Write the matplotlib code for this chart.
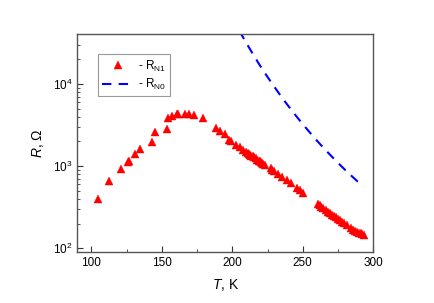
import numpy as np
import matplotlib
matplotlib.use('Agg')
import matplotlib.pyplot as plt
from matplotlib.ticker import LogLocator, MultipleLocator, NullFormatter

plt.rcParams['font.family'] = ['Liberation Sans', 'DejaVu Sans']
plt.rcParams['mathtext.fontset'] = 'custom'
plt.rcParams['mathtext.rm'] = 'Liberation Sans'
plt.rcParams['mathtext.it'] = 'Liberation Sans:italic'

# R_N1 measured points (T in K, R in Ohm)
t_n1 = [105.0, 112.5, 120.8, 125.7, 126.7, 130.7, 134.8, 142.8, 145.1, 153.6,
        154.6, 157.0, 161.0, 161.7, 166.4, 169.2, 172.8, 179.1,
        188.2, 191.2, 194.5, 197.6, 199.3, 202.3, 205.4, 207.8, 209.9, 210.8,
        211.8, 212.6, 213.5, 214.4, 215.3, 216.5, 217.7, 218.6, 219.6, 220.5,
        221.3, 222.1, 222.9, 227.2, 228.3, 229.5, 232.3, 235.5, 238.5, 241.3,
        245.6, 248.0, 250.4,
        260.7, 261.9, 263.1, 264.6, 266.2, 267.7, 269.2, 270.7, 272.1, 273.5,
        274.9, 276.5, 278.0, 279.5, 281.1, 283.9, 285.8, 287.2, 288.7, 290.0,
        291.0, 292.2, 293.3]
r_n1 = [399, 662, 910, 1127, 1160, 1413, 1625, 1963, 2620, 2825,
        3800, 4030, 4260, 4300, 4300, 4300, 4230, 3800,
        2900, 2640, 2475, 2094, 2000, 1820, 1705, 1550, 1465, 1430,
        1400, 1365, 1336, 1310, 1288, 1240, 1194, 1165, 1138, 1112,
        1088, 1062, 1038, 935, 900, 860, 805, 734, 681, 621,
        548, 514, 476,
        347, 334, 321, 307, 293, 280, 267, 257, 248, 239,
        230, 220, 211, 202, 194, 175, 167, 163, 159, 155,
        152, 148, 144]

# R_N0 curve
t_n0 = [205, 210, 215, 220, 225, 230, 235, 240, 245, 250,
        255, 260, 265, 270, 275, 280, 285, 290, 293]
r_n0 = [44000, 31200, 22400, 16300, 12100, 9100, 6890, 5300, 4120, 3230,
        2560, 2040, 1645, 1336, 1092, 900, 748, 624, 564]

fig = plt.figure(figsize=(4.34, 3.03), dpi=100)
ax = fig.add_axes([0.178, 0.168, 0.682, 0.719])

ax.plot(t_n1, r_n1, linestyle='none', marker='^', markersize=5.5,
        color='#ff0000', markeredgewidth=0.3, label=r'- R$_\mathregular{N1}$')
ax.plot(t_n0, r_n0, linestyle=(0, (4.5, 3.5)), linewidth=1.5,
        color='#0000ff', label=r'- R$_\mathregular{N0}$')

ax.set_yscale('log')
ax.set_xlim(90, 300)
ax.set_ylim(90, 40000)

ax.xaxis.set_major_locator(MultipleLocator(50))
ax.xaxis.set_minor_locator(MultipleLocator(25))
ax.yaxis.set_major_locator(LogLocator(base=10, numticks=10))
ax.yaxis.set_minor_locator(LogLocator(base=10, subs=np.arange(2, 10), numticks=10))
ax.yaxis.set_minor_formatter(NullFormatter())

ax.tick_params(which='both', direction='in', top=False, right=False,
               labelsize=8.5, color='#333333')
ax.tick_params(which='major', length=4, width=0.8)
ax.tick_params(which='minor', length=2, width=0.6)
for sp in ax.spines.values():
    sp.set_color('#555555')
    sp.set_linewidth(1.0)

ax.set_xlabel(r'$\mathit{T}$, K', fontsize=10, labelpad=6)
ax.set_ylabel(r'$\mathit{R}$, Ω', fontsize=10, labelpad=5)

leg = ax.legend(loc='upper left', bbox_to_anchor=(0.071, 0.908),
                borderaxespad=0, fontsize=8.5, handlelength=2.6,
                fancybox=False, framealpha=1, edgecolor='#999999',
                borderpad=0.35, labelspacing=0.3, handletextpad=0.4)
leg.get_frame().set_linewidth(0.8)

fig.savefig('out.png', dpi=100)
